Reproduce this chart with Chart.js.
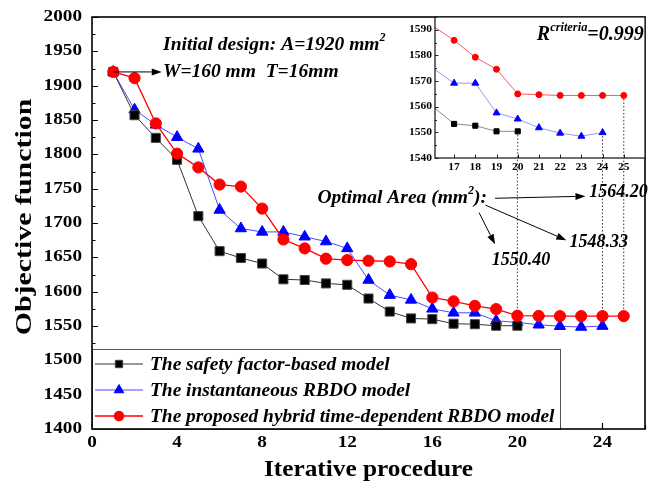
<!DOCTYPE html>
<html>
<head>
<meta charset="utf-8">
<script src="https://cdn.jsdelivr.net/npm/chart.js@4.4.1/dist/chart.umd.min.js"></script>
<style>
html, body { margin: 0; padding: 0; background: #fff; }
#wrap { position: relative; width: 657px; height: 493px; }
#mainChart { position: absolute; left: 0; top: 0; }
#insetChart { position: absolute; left: 395px; top: 0; }
</style>
</head>
<body>
<div id="wrap">
  <canvas id="mainChart" width="657" height="493"></canvas>
  <canvas id="insetChart" width="262" height="180"></canvas>
</div>
<script>
const iterations = [1, 2, 3, 4, 5, 6, 7, 8, 9, 10, 11, 12, 13, 14, 15, 16, 17, 18, 19, 20, 21, 22, 23, 24, 25];
const safetyFactorModel = [1920, 1857, 1824, 1792, 1710, 1659, 1649, 1641, 1618, 1617, 1612, 1610, 1590, 1571, 1561, 1560, 1553.3, 1552.6, 1550.4, 1550.4];
const instantaneousModel = [1920, 1865, 1843, 1825, 1808, 1719, 1692, 1687, 1687, 1680, 1673, 1663, 1617, 1595, 1588, 1575, 1569.2, 1569.2, 1557.6, 1555.2, 1551.8, 1549.7, 1548.5, 1549.9];
const hybridModel = [1920, 1911, 1845, 1801, 1781, 1756, 1753, 1721, 1676, 1663, 1648, 1646, 1645, 1644, 1640, 1591.5, 1585.9, 1579.3, 1574.6, 1565, 1564.7, 1564.4, 1564.4, 1564.4, 1564.4];
const seriesNames = ['The safety factor-based model', 'The instantaneous RBDO model', 'The proposed hybrid time-dependent RBDO model'];
const xTicks = [0, 4, 8, 12, 16, 20, 24];
const yTicks = [1400, 1450, 1500, 1550, 1600, 1650, 1700, 1750, 1800, 1850, 1900, 1950, 2000];
const insetXTicks = [17, 18, 19, 20, 21, 22, 23, 24, 25];
const insetYTicks = [1540, 1550, 1560, 1570, 1580, 1590];
// which point each dotted drop line starts from: [series index, iteration]
const dropLines = [[0, 20], [1, 24], [2, 25]];
const optimalLabels = ['1550.40', '1548.33', '1564.20'];

const allSeries = [safetyFactorModel, instantaneousModel, hybridModel];
const FONT = "'Liberation Serif', 'Times New Roman', serif";

function toPoints(values) {
    return values.map((v, i) => ({ x: iterations[i], y: v }));
}

function drawArrow(ctx, x1, y1, x2, y2) {
    const ang = Math.atan2(y2 - y1, x2 - x1);
    const len = 10, half = 3.5;
    ctx.beginPath();
    ctx.moveTo(x1, y1);
    ctx.lineTo(x2 - Math.cos(ang) * len, y2 - Math.sin(ang) * len);
    ctx.stroke();
    ctx.beginPath();
    ctx.moveTo(x2, y2);
    ctx.lineTo(x2 - Math.cos(ang) * len - Math.sin(ang) * half, y2 - Math.sin(ang) * len + Math.cos(ang) * half);
    ctx.lineTo(x2 - Math.cos(ang) * len + Math.sin(ang) * half, y2 - Math.sin(ang) * len - Math.cos(ang) * half);
    ctx.closePath();
    ctx.fill();
}

// draws text pieces, some of them as superscripts
function drawRich(ctx, parts, x, y, size) {
    let cx = x;
    parts.forEach(p => {
        const s = p.sup ? size * 0.62 : size;
        ctx.font = 'italic bold ' + s + 'px ' + FONT;
        ctx.fillText(p.t, cx, p.sup ? y - size * 0.38 : y);
        cx += ctx.measureText(p.t).width;
    });
}

// the original's upright text is wider than Liberation Serif, so stretch it
function drawWide(ctx, text, x, y, font, sx, align, rot) {
    ctx.save();
    ctx.translate(x, y);
    if (rot) ctx.rotate(rot);
    ctx.scale(sx, 1);
    ctx.font = font;
    ctx.textAlign = align;
    ctx.textBaseline = 'middle';
    ctx.fillText(text, 0, 0);
    ctx.restore();
}

const styles = [
    { line: '#333', width: 1, point: 'rect', r: 6.4, fill: '#000', edge: '#444', lr: 5.2 },
    { line: '#4a4aff', width: 1, point: 'triangle', r: 6.5, fill: '#0000ff', edge: '#0000ff', lr: 5.5 },
    { line: '#ff0000', width: 1.3, point: 'circle', r: 5.6, fill: '#ff0000', edge: '#ff0000', lr: 4.6 }
];

const mainDecor = {
    id: 'mainDecor',
    beforeDatasetsDraw(chart) {
        const { ctx, scales: { x, y }, chartArea } = chart;
        ctx.save();
        ctx.setLineDash([1.5, 2]);
        ctx.strokeStyle = '#333';
        ctx.lineWidth = 1;
        dropLines.forEach(([s, it]) => {
            const px = x.getPixelForValue(it);
            const py = y.getPixelForValue(allSeries[s][it - 1]);
            ctx.beginPath();
            ctx.moveTo(px, py);
            ctx.lineTo(px, chartArea.top);
            ctx.stroke();
        });
        ctx.restore();
    },
    afterDraw(chart) {
        const { ctx, scales: { x, y }, chartArea: a } = chart;
        ctx.save();
        ctx.strokeStyle = '#000';
        ctx.fillStyle = '#000';

        // ticks pointing inward
        ctx.lineWidth = 1.2;
        ctx.beginPath();
        for (let v = 1400; v <= 2000; v += 25) {
            const py = Math.round(y.getPixelForValue(v)) + 0.5;
            const len = v % 50 === 0 ? 6 : 3.5;
            ctx.moveTo(a.left, py);
            ctx.lineTo(a.left + len, py);
        }
        for (let v = 0; v <= 26; v += 2) {
            const px = Math.round(x.getPixelForValue(v)) + 0.5;
            const len = v % 4 === 0 ? 6 : 3.5;
            ctx.moveTo(px, a.bottom);
            ctx.lineTo(px, a.bottom - len);
        }
        ctx.stroke();

        // tick labels and axis titles
        const tickFont = 'bold 16px ' + FONT;
        yTicks.forEach(v => drawWide(ctx, String(v), a.left - 10, y.getPixelForValue(v), tickFont, 1.2, 'right'));
        xTicks.forEach(v => drawWide(ctx, String(v), x.getPixelForValue(v), a.bottom + 14, tickFont, 1.2, 'center'));
        const titleFont = 'bold 23px ' + FONT;
        drawWide(ctx, 'Iterative procedure', (a.left + a.right) / 2, 470, titleFont, 1.1, 'center');
        drawWide(ctx, 'Objective function', 25, 217, titleFont, 1.3, 'center', -Math.PI / 2);

        // legend box
        const lx = a.left, ly = 349, lw = 468, lh = a.bottom - 349;
        ctx.fillStyle = '#fff';
        ctx.fillRect(lx, ly, lw, lh);
        ctx.strokeStyle = '#555';
        ctx.lineWidth = 1;
        ctx.strokeRect(lx + 0.5, ly + 0.5, lw, lh);
        const rowsY = [364, 390, 416];
        chart.data.datasets.forEach((ds, i) => {
            const st = styles[i];
            const ry = rowsY[i];
            ctx.strokeStyle = st.line;
            ctx.lineWidth = st.width;
            ctx.beginPath();
            ctx.moveTo(lx + 3, ry);
            ctx.lineTo(lx + 51, ry);
            ctx.stroke();
            ctx.fillStyle = st.fill;
            ctx.strokeStyle = st.edge;
            Chart.helpers.drawPoint(ctx, { pointStyle: st.point, radius: st.lr, rotation: 0, borderWidth: 1 }, lx + 27, ry);
            ctx.fillStyle = '#000';
            ctx.font = 'italic bold 19.4px ' + FONT;
            ctx.textBaseline = 'middle';
            ctx.textAlign = 'left';
            ctx.fillText(ds.label, lx + 58, ry + 1);
        });

        // frame
        ctx.strokeStyle = '#000';
        ctx.lineWidth = 1.6;
        ctx.strokeRect(a.left, a.top, a.right - a.left, a.bottom - a.top);

        // annotations
        ctx.fillStyle = '#000';
        ctx.strokeStyle = '#000';
        ctx.lineWidth = 1;
        ctx.textBaseline = 'middle';
        ctx.textAlign = 'left';
        const X = v => x.getPixelForValue(v), Y = v => y.getPixelForValue(v);
        drawRich(ctx, [{ t: 'Initial design: A=1920 mm' }, { t: '2', sup: true }], X(3.34), Y(1959), 19.5);
        drawRich(ctx, [{ t: 'W=160 mm  T=16mm' }], X(3.34), Y(1920), 19.5);
        drawArrow(ctx, X(1), Y(1920), X(3.28), Y(1920));

        drawRich(ctx, [{ t: 'Optimal Area (' }, { t: 'mm' }, { t: '2', sup: true }, { t: '):' }], X(10.6), Y(1736), 19.5);
        drawArrow(ctx, X(18.95), Y(1736), X(23.2), Y(1739));
        drawArrow(ctx, X(18.5), Y(1726), X(22.3), Y(1675));
        drawArrow(ctx, X(18.2), Y(1715), X(18.95), Y(1669));
        drawRich(ctx, [{ t: optimalLabels[2] }], X(23.38), Y(1744), 18);
        drawRich(ctx, [{ t: optimalLabels[1] }], X(22.45), Y(1672), 18);
        drawRich(ctx, [{ t: optimalLabels[0] }], X(18.8), Y(1646), 18);
        ctx.restore();
    }
};

const mainChart = new Chart(document.getElementById('mainChart'), {
    type: 'line',
    data: {
        datasets: allSeries.map((vals, i) => ({
            label: seriesNames[i],
            data: toPoints(vals),
            borderColor: styles[i].line,
            borderWidth: styles[i].width,
            pointStyle: styles[i].point,
            pointRadius: styles[i].r,
            pointBackgroundColor: styles[i].fill,
            pointBorderColor: styles[i].edge,
            pointBorderWidth: 1,
            tension: 0,
            order: [1, 2, 0][i]
        }))
    },
    options: {
        responsive: false,
        animation: false,
        layout: { padding: { left: 0, right: 12, top: 17, bottom: 0 } },
        plugins: { legend: { display: false }, tooltip: { enabled: false } },
        scales: {
            x: {
                type: 'linear',
                min: 0,
                max: 26,
                afterBuildTicks: axis => { axis.ticks = xTicks.map(v => ({ value: v })); },
                afterFit: axis => { axis.height = 64; },
                grid: { display: false, drawTicks: false },
                border: { display: false },
                ticks: { display: false }
            },
            y: {
                min: 1400,
                max: 2000,
                afterBuildTicks: axis => { axis.ticks = yTicks.map(v => ({ value: v })); },
                afterFit: axis => { axis.width = 92; },
                grid: { display: false, drawTicks: false },
                border: { display: false },
                ticks: { display: false }
            }
        }
    },
    plugins: [mainDecor]
});

const insetStyles = [
    { line: '#8a8a8a', point: 'rect', r: 3.6, fill: '#000' },
    { line: '#9a9aee', point: 'triangle', r: 4, fill: '#0000ff' },
    { line: '#f06060', point: 'circle', r: 3, fill: '#ff0000' }
];

const insetDecor = {
    id: 'insetDecor',
    beforeDraw(chart) {
        const { ctx, chartArea: a } = chart;
        ctx.save();
        ctx.fillStyle = '#fff';
        ctx.fillRect(a.left, a.top, a.right - a.left, a.bottom - a.top);
        ctx.restore();
    },
    beforeDatasetsDraw(chart) {
        const { ctx, scales: { x, y }, chartArea } = chart;
        ctx.save();
        ctx.setLineDash([1.5, 2]);
        ctx.strokeStyle = '#333';
        ctx.lineWidth = 1;
        dropLines.forEach(([s, it]) => {
            const px = x.getPixelForValue(it);
            const py = y.getPixelForValue(allSeries[s][it - 1]);
            ctx.beginPath();
            ctx.moveTo(px, py);
            ctx.lineTo(px, chartArea.bottom);
            ctx.stroke();
        });
        ctx.restore();
    },
    afterDraw(chart) {
        const { ctx, scales: { x, y }, chartArea: a } = chart;
        ctx.save();
        ctx.strokeStyle = '#222';
        ctx.lineWidth = 1;
        ctx.beginPath();
        for (let v = 1540; v <= 1595; v += 5) {
            const py = Math.round(y.getPixelForValue(v)) + 0.5;
            ctx.moveTo(a.left, py);
            ctx.lineTo(a.left + (v % 10 === 0 ? 3.5 : 2), py);
        }
        insetXTicks.forEach(v => {
            const px = Math.round(x.getPixelForValue(v)) + 0.5;
            ctx.moveTo(px, a.bottom);
            ctx.lineTo(px, a.bottom - 3.5);
        });
        ctx.stroke();
        ctx.lineWidth = 1.3;
        ctx.strokeRect(a.left, a.top, a.right - a.left, a.bottom - a.top);

        ctx.fillStyle = '#000';
        const tickFont = 'bold 10px ' + FONT;
        insetYTicks.forEach(v => drawWide(ctx, String(v), a.left - 3, y.getPixelForValue(v), tickFont, 1.15, 'right'));
        insetXTicks.forEach(v => drawWide(ctx, String(v), x.getPixelForValue(v), a.bottom + 9, tickFont, 1.15, 'center'));

        ctx.textBaseline = 'middle';
        ctx.textAlign = 'left';
        drawRich(ctx, [{ t: 'R' }, { t: 'criteria', sup: true }, { t: '=0.999' }], x.getPixelForValue(20.9), y.getPixelForValue(1588), 20);
        ctx.restore();
    }
};

const insetChart = new Chart(document.getElementById('insetChart'), {
    type: 'line',
    data: {
        datasets: allSeries.map((vals, i) => ({
            label: seriesNames[i],
            data: toPoints(vals).filter(p => p.x >= 16),
            borderColor: insetStyles[i].line,
            borderWidth: 1,
            pointStyle: insetStyles[i].point,
            pointRadius: c => (c.raw && c.raw.x < 16.5 ? 0 : insetStyles[i].r),
            pointBackgroundColor: insetStyles[i].fill,
            pointBorderColor: insetStyles[i].fill,
            pointBorderWidth: 1,
            tension: 0,
            clip: 0,
            order: [1, 2, 0][i]
        }))
    },
    options: {
        responsive: false,
        animation: false,
        layout: { padding: { left: 0, right: 12, top: 17, bottom: 0 } },
        plugins: { legend: { display: false }, tooltip: { enabled: false } },
        scales: {
            x: {
                type: 'linear',
                min: 16.1,
                max: 26,
                afterBuildTicks: axis => { axis.ticks = insetXTicks.map(v => ({ value: v })); },
                afterFit: axis => { axis.height = 22; },
                grid: { display: false, drawTicks: false },
                border: { display: false },
                ticks: { display: false }
            },
            y: {
                min: 1540,
                max: 1595,
                afterBuildTicks: axis => { axis.ticks = insetYTicks.map(v => ({ value: v })); },
                afterFit: axis => { axis.width = 40; },
                grid: { display: false, drawTicks: false },
                border: { display: false },
                ticks: { display: false }
            }
        }
    },
    plugins: [insetDecor]
});
</script>
</body>
</html>
